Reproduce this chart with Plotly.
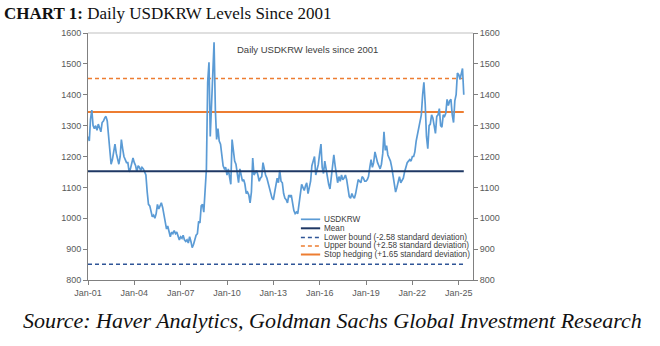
import pandas as pd
import plotly.graph_objects as go

# ---- data (monthly readings of the daily series, Jan-2001 .. May-2025) ----
usdkrw = [
    # 2001
    1265, 1250, 1320, 1350, 1300, 1290, 1300, 1285, 1305, 1295, 1280, 1310,
    # 2002
    1315, 1325, 1330, 1315, 1270, 1220, 1175, 1190, 1210, 1240, 1210, 1195,
    # 2003
    1175, 1200, 1255, 1225, 1200, 1190, 1180, 1180, 1150, 1160, 1185, 1195,
    # 2004
    1180, 1170, 1150, 1170, 1165, 1155, 1165, 1160, 1150, 1140, 1085, 1045,
    # 2005
    1040, 1020, 1005, 1010, 1000, 1015, 1045, 1030, 1040, 1050, 1035, 1010,
    # 2006
    985, 965, 975, 950, 940, 955, 950, 960, 950, 955, 940, 930,
    # 2007
    940, 935, 945, 930, 925, 930, 920, 940, 925, 905, 915, 935,
    # 2008
    945, 950, 990, 985, 1040, 1045, 1020, 1090, 1160, 1440, 1505, 1265,
    # 2009
    1380, 1500, 1570, 1350, 1255, 1290, 1250, 1240, 1200, 1170, 1160, 1165,
    # 2010
    1140, 1160, 1135, 1110, 1255, 1210, 1185, 1175, 1150, 1115, 1160, 1140,
    # 2011
    1120, 1125, 1110, 1080, 1085, 1075, 1050, 1085, 1195, 1140, 1150, 1155,
    # 2012
    1140, 1120, 1130, 1135, 1180, 1155, 1140, 1130, 1115, 1100, 1085, 1065,
    # 2013
    1060, 1090, 1110, 1130, 1115, 1155, 1120, 1115, 1080, 1065, 1060, 1050,
    # 2014
    1075, 1070, 1075, 1040, 1025, 1015, 1020, 1015, 1045, 1065, 1110, 1100,
    # 2015
    1090, 1105, 1115, 1080, 1105, 1120, 1170, 1190, 1200, 1140, 1160, 1175,
    # 2016
    1210, 1240, 1165, 1145, 1185, 1160, 1130, 1110, 1095, 1140, 1175, 1205,
    # 2017
    1170, 1135, 1115, 1135, 1120, 1140, 1125, 1130, 1140, 1125, 1090, 1070,
    # 2018
    1065, 1080, 1070, 1065, 1080, 1110, 1125, 1120, 1115, 1135, 1130, 1120,
    # 2019
    1120, 1125, 1135, 1165, 1190, 1165, 1180, 1215, 1195, 1180, 1170, 1160,
    # 2020
    1175, 1210, 1280, 1220, 1235, 1205, 1195, 1185, 1165, 1140, 1110, 1085,
    # 2021
    1100, 1115, 1135, 1115, 1125, 1130, 1150, 1170, 1180, 1185, 1190, 1185,
    # 2022
    1200, 1200, 1215, 1250, 1270, 1295, 1310, 1335, 1400, 1440, 1370, 1265,
    # 2023
    1225, 1300, 1305, 1335, 1325, 1290, 1275, 1330, 1335, 1355, 1300, 1295,
    # 2024
    1335, 1330, 1340, 1385, 1365, 1380, 1385, 1335, 1310, 1380, 1400, 1470,
    # 2025
    1465, 1450, 1470, 1485, 1400,
]
dates = pd.date_range("2001-01-01", periods=len(usdkrw), freq="MS")

mean_level = 1152
lower_bound = 851
upper_bound = 1453
stop_hedging = 1344

series_names = [
    "USDKRW",
    "Mean",
    "Lower bound (-2.58 standard deviation)",
    "Upper bound (+2.58 standard deviation)",
    "Stop hedging (+1.65 standard deviation)",
]
y_ticks = [800, 900, 1000, 1100, 1200, 1300, 1400, 1500, 1600]
x_tick_years = [2001, 2004, 2007, 2010, 2013, 2016, 2019, 2022, 2025]
x_tick_labels = ["Jan-01", "Jan-04", "Jan-07", "Jan-10", "Jan-13",
                 "Jan-16", "Jan-19", "Jan-22", "Jan-25"]

# ---- styles ----
C_USD = "#5b9bd5"
C_MEAN = "#1f3864"
C_LOW = "#2f5597"
C_UP = "#ed7d31"
C_STOP = "#ed7d31"
DASH = "4px,3px"
styles = [
    dict(color=C_USD, width=1.7),
    dict(color=C_MEAN, width=2),
    dict(color=C_LOW, width=1.5, dash=DASH),
    dict(color=C_UP, width=1.5, dash=DASH),
    dict(color=C_STOP, width=2),
]

x_span = [dates[0], dates[-1]]
fig = go.Figure()
fig.add_trace(go.Scatter(x=[x_span[0], x_span[1]], y=[lower_bound] * 2, mode="lines",
                         line=styles[2], name=series_names[2]))
fig.add_trace(go.Scatter(x=[x_span[0], x_span[1]], y=[upper_bound] * 2, mode="lines",
                         line=styles[3], name=series_names[3]))
fig.add_trace(go.Scatter(x=[x_span[0], x_span[1]], y=[stop_hedging] * 2, mode="lines",
                         line=styles[4], name=series_names[4]))
fig.add_trace(go.Scatter(x=[x_span[0], x_span[1]], y=[mean_level] * 2, mode="lines",
                         line=styles[1], name=series_names[1], yaxis="y2"))
fig.add_trace(go.Scatter(x=dates, y=usdkrw, mode="lines", line=styles[0],
                         name=series_names[0]))

tick_font = dict(family="Arial, Liberation Sans, sans-serif", size=9, color="#595959")
axis_common = dict(range=[800, 1600], tickvals=y_ticks, ticks="outside", ticklen=4,
                   tickcolor="#808080", showline=True, linecolor="#808080",
                   linewidth=1, showgrid=False, zeroline=False, tickfont=tick_font)

fig.update_layout(
    width=660, height=346,
    margin=dict(l=88, r=187, t=33, b=66),
    paper_bgcolor="white", plot_bgcolor="white",
    showlegend=False,
    xaxis=dict(type="date", range=["2001-01-01", "2025-12-05"],
               tickvals=[pd.Timestamp(f"{y}-01-01") for y in x_tick_years],
               ticktext=x_tick_labels, ticks="outside", ticklen=4, tickcolor="#808080",
               showline=True, linecolor="#808080", showgrid=False, zeroline=False,
               tickfont=tick_font),
    yaxis=dict(**axis_common),
    yaxis2=dict(**axis_common, overlaying="y", side="right"),
    title=dict(text="<b>CHART 1:</b> Daily USDKRW Levels Since 2001",
               xref="container", x=4 / 660, xanchor="left",
               yref="container", y=1 - 13 / 346, yanchor="middle",
               font=dict(family="Liberation Serif, serif", size=17, color="#111111")),
)

# top border of plot frame
fig.add_shape(type="line", xref="paper", yref="paper", x0=0, x1=1, y0=1, y1=1,
              line=dict(color="#bfbfbf", width=1))

# in-chart title
fig.add_annotation(text="Daily USDKRW levels since 2001", xref="paper", yref="paper",
                   x=0.571, y=0.935, xanchor="center", yanchor="middle", showarrow=False,
                   font=dict(family="Arial, Liberation Sans, sans-serif", size=9.5,
                             color="#404040"))

# compact legend
leg_rows_y = [0.2457, 0.2093, 0.1721, 0.1377, 0.1032]
for name, st, yy in zip(series_names, styles, leg_rows_y):
    fig.add_shape(type="line", xref="paper", yref="paper", x0=0.553, x1=0.603,
                  y0=yy, y1=yy, line=st)
    fig.add_annotation(text=name, xref="paper", yref="paper", x=0.609, y=yy,
                       xanchor="left", yanchor="middle", showarrow=False,
                       font=dict(family="Arial, Liberation Sans, sans-serif", size=8.2,
                                 color="#404040"))

# source line
fig.add_annotation(text="<i>Source: Haver Analytics, Goldman Sachs Global Investment Research</i>",
                   xref="paper", yref="paper", x=(21 - 88) / 385, y=(280 - 320) / 247,
                   xanchor="left", yanchor="middle", showarrow=False,
                   font=dict(family="Liberation Serif, serif", size=22, color="#111111"))

fig.write_html("out.html")
